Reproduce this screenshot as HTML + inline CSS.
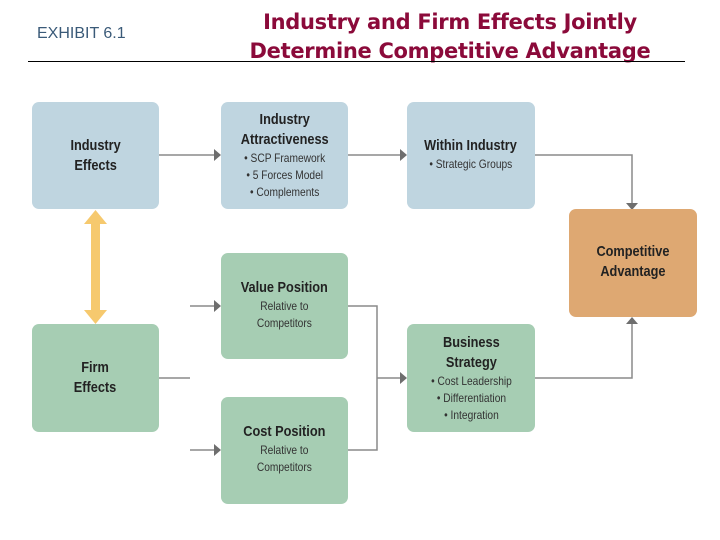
<!DOCTYPE html>
<html><head><style>
body{margin:0;width:720px;height:540px;background:#fff;position:relative;font-family:"Liberation Sans",sans-serif;overflow:hidden}
.b{position:absolute;border-radius:7px;display:flex;flex-direction:column;align-items:center;justify-content:center;text-align:center;color:#222;font-family:"Liberation Sans Narrow","Liberation Sans",sans-serif}
.t{font-weight:bold;font-size:15px;line-height:20px;transform:scaleX(.85)}
.s{font-size:12px;line-height:17px;color:#333;transform:scaleX(.85)}
.bl{background:#bfd5e0}.gr{background:#a6cdb3}.or{background:#dea872}
</style></head><body>
<div style="position:absolute;left:37px;top:25px;font-size:16px;color:#3a5a78">EXHIBIT 6.1</div>
<div style="position:absolute;left:230px;top:8px;width:440px;text-align:center;font-size:21px;line-height:29px;font-weight:bold;color:#8b0a3a;font-family:'DejaVu Sans',sans-serif;letter-spacing:-0.3px">Industry and Firm Effects Jointly<br>Determine Competitive Advantage</div>
<div style="position:absolute;left:28px;top:61px;width:657px;height:1px;background:#000"></div>

<svg width="720" height="540" style="position:absolute;left:0;top:0">
<g stroke="#8a8a8a" stroke-width="1.5" fill="none">
<path d="M159 155H214"/><path d="M348 155H400"/><path d="M535 155H632V203"/>
<path d="M190 306H214"/><path d="M159 378H190"/><path d="M190 450H214"/>
<path d="M348 306H377V450H348"/><path d="M377 378H400"/>
<path d="M535 378H632V323"/>
</g>
<g fill="#6e6e6e">
<path d="M214 149L221 155L214 161Z"/><path d="M400 149L407 155L400 161Z"/>
<path d="M626 203L632 210L638 203Z"/>
<path d="M214 300L221 306L214 312Z"/><path d="M214 444L221 450L214 456Z"/>
<path d="M400 372L407 378L400 384Z"/>
<path d="M626 324L632 317L638 324Z"/>
</g>
<g fill="#f6c96e">
<rect x="91" y="222" width="9" height="90"/>
<path d="M84 224L95.5 210L107 224Z"/><path d="M84 310L95.5 324L107 310Z"/>
</g>
</svg>

<div class="b bl" style="left:32px;top:102px;width:127px;height:107px"><div class="t">Industry<br>Effects</div></div>
<div class="b bl" style="left:221px;top:102px;width:127px;height:107px"><div class="t">Industry<br>Attractiveness</div><div class="s">• SCP Framework<br>• 5 Forces Model<br>• Complements</div></div>
<div class="b bl" style="left:407px;top:102px;width:128px;height:107px;justify-content:flex-start;padding-top:34px;box-sizing:border-box"><div class="t">Within Industry</div><div class="s">• Strategic Groups</div></div>
<div class="b or" style="left:569px;top:209px;width:128px;height:108px;justify-content:flex-start;padding-top:33px;box-sizing:border-box"><div class="t">Competitive<br>Advantage</div></div>
<div class="b gr" style="left:221px;top:253px;width:127px;height:106px;justify-content:flex-start;padding-top:25px;box-sizing:border-box"><div class="t">Value Position</div><div class="s">Relative to<br>Competitors</div></div>
<div class="b gr" style="left:32px;top:324px;width:127px;height:108px"><div class="t">Firm<br>Effects</div></div>
<div class="b gr" style="left:407px;top:324px;width:128px;height:108px"><div class="t">Business<br>Strategy</div><div class="s">• Cost Leadership<br>• Differentiation<br>• Integration</div></div>
<div class="b gr" style="left:221px;top:397px;width:127px;height:107px;justify-content:flex-start;padding-top:25px;box-sizing:border-box"><div class="t">Cost Position</div><div class="s">Relative to<br>Competitors</div></div>
</body></html>
